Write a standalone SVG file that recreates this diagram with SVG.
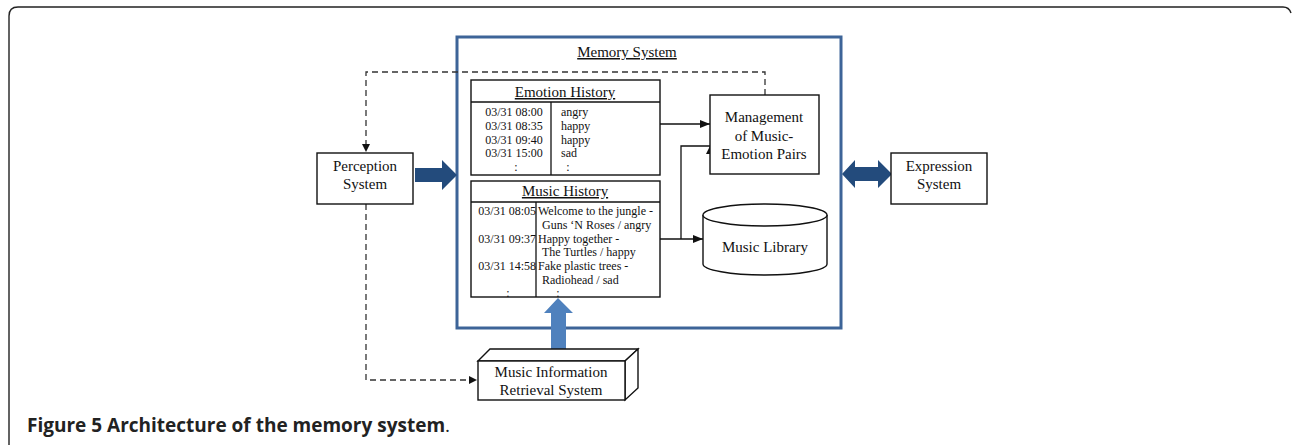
<svg xmlns="http://www.w3.org/2000/svg" width="1292" height="445" viewBox="0 0 1292 445">
<defs>
<style>
.t{font-family:"Liberation Serif","Times New Roman",serif;fill:#111}
.t15{font-size:15px}
.t12{font-size:12px}
.box{fill:#fff;stroke:#111;stroke-width:1.4}
.ln{fill:none;stroke:#111;stroke-width:1.3}
.dash{fill:none;stroke:#333;stroke-width:1.3;stroke-dasharray:6 4}
</style>
<marker id="ah" markerWidth="10" markerHeight="8" refX="10" refY="4" orient="auto" markerUnits="userSpaceOnUse">
<path d="M0,0 L10,4 L0,8 Z" fill="#111"/>
</marker>
</defs>
<rect width="1292" height="445" fill="#fff"/>
<path d="M9 445 L9 16 Q9 7 18 7 L1283 7 Q1289 7 1291 13" fill="none" stroke="#222" stroke-width="1.4"/>

<g id="memory-system">
<rect x="457" y="37" width="384" height="291" fill="none" stroke="#3d6498" stroke-width="3"/>
<text class="t t15" x="627" y="57" text-anchor="middle" text-decoration="underline">Memory System</text>
</g>

<g id="connectors">
<path class="dash" d="M765 95 V72 H366 V144" />
<path d="M366 152 L362 144 L370 144 Z" fill="#111"/>
<path class="dash" d="M366 204 V380 H469" />
<path d="M477 380 L469 376 L469 384 Z" fill="#111"/>
<path class="ln" d="M660 124 H710" marker-end="url(#ah)"/>
<path class="ln" d="M660 239 H703" marker-end="url(#ah)"/>
<path class="ln" d="M681 239 V146 H710"/>
<path d="M710 146 L706 154 L714 154 Z" fill="#111"/>
<path d="M415 168 H442 V160 L457 175 L442 190 V182 H415 Z" fill="#234b7c"/>
<path d="M842 174 L855 160 V167 H878 V160 L892 174 L878 188 V181 H855 V188 Z" fill="#234b7c"/>
<path d="M551 349 V313 H544 L558 298 L573 313 H566 V349 Z" fill="#4f81bd"/>
</g>

<g id="perception-system">
<rect class="box" x="317" y="153" width="96" height="51"/>
<text class="t t15" x="365" y="171" text-anchor="middle">Perception</text>
<text class="t t15" x="365" y="189" text-anchor="middle">System</text>
</g>

<g id="expression-system">
<rect class="box" x="891" y="153" width="96" height="51"/>
<text class="t t15" x="939" y="171" text-anchor="middle">Expression</text>
<text class="t t15" x="939" y="189" text-anchor="middle">System</text>
</g>

<g id="emotion-history">
<rect class="box" x="471" y="80" width="189" height="95"/>
<line class="ln" x1="471" y1="102" x2="660" y2="102"/>
<line class="ln" x1="551" y1="102" x2="551" y2="175"/>
<text class="t t15" x="565" y="97" text-anchor="middle" text-decoration="underline">Emotion History</text>
<g class="t t12">
<text x="514" y="116" text-anchor="middle">03/31 08:00</text>
<text x="514" y="130" text-anchor="middle">03/31 08:35</text>
<text x="514" y="143.5" text-anchor="middle">03/31 09:40</text>
<text x="514" y="157" text-anchor="middle">03/31 15:00</text>
<text x="516" y="171" text-anchor="middle">:</text>
<text x="561" y="116">angry</text>
<text x="561" y="130">happy</text>
<text x="561" y="143.5">happy</text>
<text x="561" y="157">sad</text>
<text x="568" y="171" text-anchor="middle">:</text>
</g>
</g>

<g id="music-history">
<rect class="box" x="471" y="181" width="189" height="116"/>
<line class="ln" x1="471" y1="202" x2="660" y2="202"/>
<line class="ln" x1="536" y1="202" x2="536" y2="297"/>
<text class="t t15" x="565" y="196" text-anchor="middle" text-decoration="underline">Music History</text>
<g class="t t12">
<text x="536" y="215" text-anchor="end">03/31 08:05</text>
<text x="536" y="243" text-anchor="end">03/31 09:37</text>
<text x="536" y="270" text-anchor="end">03/31 14:58</text>
<text x="508" y="297" text-anchor="middle">:</text>
<text x="538" y="215">Welcome to the jungle -</text>
<text x="542" y="229">Guns ‘N Roses / angry</text>
<text x="538" y="243">Happy together -</text>
<text x="542" y="256">The Turtles / happy</text>
<text x="538" y="270">Fake plastic trees -</text>
<text x="542" y="284">Radiohead / sad</text>
<text x="558" y="297" text-anchor="middle">:</text>
</g>
</g>

<g id="management">
<rect class="box" x="710" y="95" width="109" height="79"/>
<text class="t t15" x="764" y="122" text-anchor="middle">Management</text>
<text class="t t15" x="764" y="141" text-anchor="middle">of Music-</text>
<text class="t t15" x="764" y="159" text-anchor="middle">Emotion Pairs</text>
</g>

<g id="music-library">
<path class="box" d="M703 215 V264 A62 11 0 0 0 827 264 V215"/>
<ellipse class="box" cx="765" cy="215" rx="62" ry="11"/>
<text class="t t15" x="765" y="252" text-anchor="middle">Music Library</text>
</g>

<g id="mir-system">
<path class="box" d="M478 361 L490 349 L638 349 L625 361 Z"/>
<path class="box" d="M625 361 L638 349 L638 388 L625 400 Z"/>
<rect class="box" x="478" y="361" width="147" height="39"/>
<text class="t t15" x="551" y="377" text-anchor="middle">Music Information</text>
<text class="t t15" x="551" y="395" text-anchor="middle">Retrieval System</text>
</g>

<text x="27" y="432" font-family="'Open Sans','Liberation Sans',sans-serif" font-size="19" font-weight="bold" fill="#222">Figure 5 Architecture of the memory system<tspan font-weight="normal">.</tspan></text>
</svg>
